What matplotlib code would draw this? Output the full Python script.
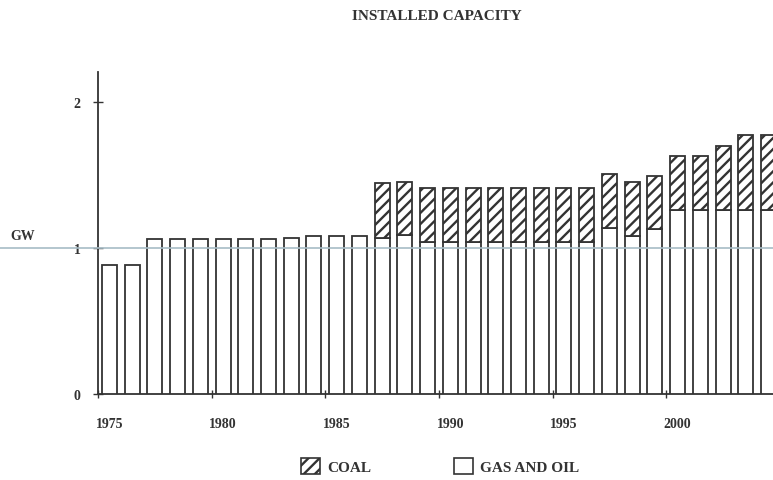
import matplotlib
matplotlib.use("Agg")
import matplotlib.pyplot as plt
from matplotlib.patches import Patch

years = list(range(1975, 2005))
gas_oil = [0.88, 0.88, 1.06, 1.06, 1.06, 1.06, 1.06, 1.06, 1.07, 1.08,
           1.08, 1.08, 1.07, 1.09, 1.04, 1.04, 1.04, 1.04, 1.04, 1.04,
           1.04, 1.04, 1.14, 1.08, 1.13, 1.26, 1.26, 1.26, 1.26, 1.26]
coal = [0, 0, 0, 0, 0, 0, 0, 0, 0, 0,
        0, 0, 0.375, 0.365, 0.37, 0.37, 0.37, 0.37, 0.37, 0.37,
        0.37, 0.37, 0.365, 0.37, 0.365, 0.37, 0.37, 0.435, 0.515, 0.515]
label_years = [1975, 1980, 1985, 1990, 1995, 2000]
y_ticks = [0, 1, 2]

plt.rcParams['font.family'] = ['Liberation Serif', 'DejaVu Serif']
plt.rcParams['hatch.linewidth'] = 1.7
plt.rcParams['hatch.color'] = '#333333'

ink = '#333333'
fig = plt.figure(figsize=(7.73, 4.81), dpi=100)
ax = fig.add_axes([98/773, 86/481, 1 - 98/773, (395-73)/481])

ax.bar(years, gas_oil, width=0.66, facecolor='white', edgecolor=ink, linewidth=1.3, zorder=3)
coal_years = [y for y, c in zip(years, coal) if c > 0]
coal_vals = [c for c in coal if c > 0]
coal_base = [g for g, c in zip(gas_oil, coal) if c > 0]
ax.bar(coal_years, coal_vals, bottom=coal_base, width=0.66, facecolor='white',
       edgecolor=ink, linewidth=1.3, hatch='///', zorder=3)

ax.set_xlim(1974.52, 2004.2)
ax.set_ylim(0, 2.205)

for s in ['top', 'right']:
    ax.spines[s].set_visible(False)
for s in ['left', 'bottom']:
    ax.spines[s].set_color(ink)
    ax.spines[s].set_linewidth(1.3)

ax.set_xticks(label_years)
ax.set_xticklabels([str(y) for y in label_years])
ax.set_xticks([y - 0.5 for y in label_years], minor=True)
ax.tick_params(axis='x', which='major', length=0, pad=16.5, labelsize=10, labelcolor=ink)
ax.tick_params(axis='x', which='minor', direction='inout', length=6, width=1, color=ink)
ax.set_yticks(y_ticks)
ax.set_yticklabels([str(v) for v in y_ticks])
ax.tick_params(axis='y', direction='inout', length=7, width=1, color=ink, pad=9,
               labelsize=10, labelcolor=ink)
for t in ax.get_xticklabels() + ax.get_yticklabels():
    t.set_fontweight('bold')

# reference line at 1 GW spanning the full width, drawn over the bars
ax.plot([-98/675, 1.0], [1, 1], transform=ax.get_yaxis_transform(), color='#a7bcc6',
        linewidth=1.2, clip_on=False, zorder=4)

fig.text(10/773, 1 - 237/481, 'GW', fontsize=10, fontweight='bold', color=ink, va='center')
fig.text(437/773, 1 - 17/481, 'INSTALLED CAPACITY', fontsize=11, fontweight='bold',
         color=ink, ha='center', va='center')

handles = [Patch(facecolor='white', edgecolor=ink, hatch='///', linewidth=1.2, label='COAL'),
           Patch(facecolor='white', edgecolor=ink, linewidth=1.2, label='GAS AND OIL')]
leg = fig.legend(handles=handles, loc='center', bbox_to_anchor=(440/773, 1 - 467/481),
                 ncol=2, frameon=False, columnspacing=5.4, handlelength=1.25, handleheight=1.25,
                 handletextpad=0.45, fontsize=11)
for t in leg.get_texts():
    t.set_color(ink)
    t.set_fontweight('bold')

fig.savefig('out.png', dpi=100)
